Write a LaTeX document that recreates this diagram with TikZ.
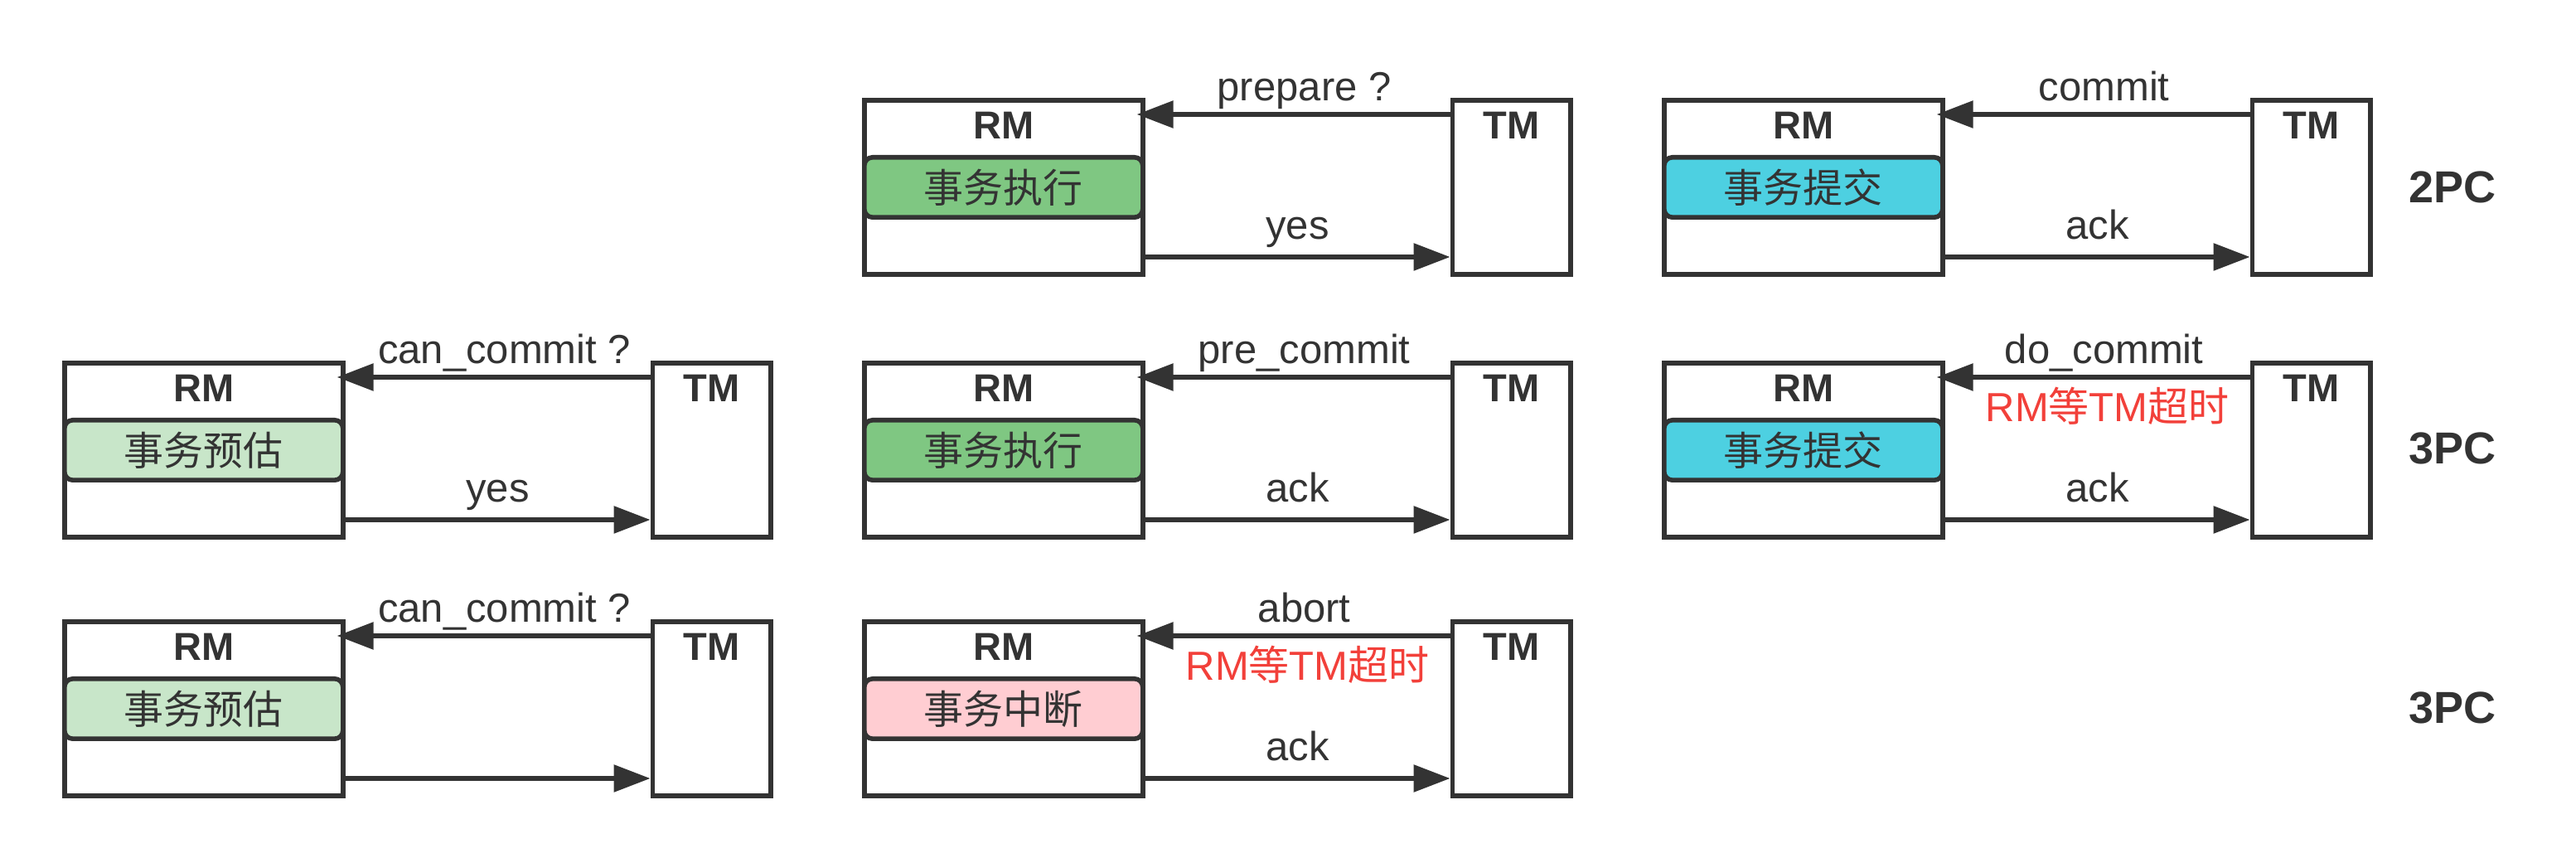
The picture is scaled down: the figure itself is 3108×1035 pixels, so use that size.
\documentclass[tikz,border=0pt]{standalone}
\usepackage{fontspec}
\setmainfont{Liberation Sans}
\newfontfamily\cjk{Noto Sans CJK SC}
\usetikzlibrary{positioning,arrows.meta}
\definecolor{ink}{HTML}{333333}
\definecolor{runfill}{HTML}{7FC782}
\definecolor{votefill}{HTML}{C8E6C9}
\definecolor{commitfill}{HTML}{4DD0E1}
\definecolor{abortfill}{HTML}{FFCDD2}
\definecolor{warnred}{HTML}{F2403A}
\newcommand{\txt}{\fontsize{12.25}{14}\selectfont}
\tikzset{
  box/.style={draw=ink, line width=1.4pt, fill=white, inner sep=0pt},
  rmbox/.style={box, minimum width=84pt, minimum height=52.5pt},
  tmbox/.style={box, minimum width=35.6pt, minimum height=52.5pt},
  head/.style={text=ink, font=\bfseries\fontsize{11.75}{13}\selectfont},
  state/.style={draw=ink, line width=1.4pt, rounded corners=2.5pt, minimum width=84pt,
    minimum height=18.1pt, inner sep=0pt, text=ink, font=\cjk\fontsize{12}{13}\selectfont},
  msg/.style={draw=ink, line width=1.4pt, -{Triangle[length=11pt,width=8pt]}},
  ask/.style={anchor=base, yshift=4pt, xshift=2pt, text=ink, font=\txt},
  reply/.style={anchor=base, yshift=5.25pt, text=ink, font=\txt},
  warn/.style={anchor=base, yshift=-13.5pt, xshift=3pt, text=warnred, font=\txt},
  phase/.style={text=ink, font=\bfseries\fontsize{13.5}{15}\selectfont}
}
% one RM/TM exchange: name, x, y, state fill, state text
\newcommand{\rmtm}[5]{%
  \node[rmbox, anchor=north west] (#1rm) at (#2,#3) {};
  \node[tmbox, right=92pt of #1rm.north east, anchor=north west] (#1tm) {};
  \node[head] (#1rmname) at ([yshift=-8.25pt]#1rm.north) {RM};
  \node[head] (#1tmname) at ([yshift=-8.25pt]#1tm.north) {TM};
  \node[state, fill=#4] (#1state) at ([yshift=-27pt]#1rm.north) {#5};
  \draw[msg, shorten >=-2.5pt] ([yshift=-5pt]#1tm.north west) -- coordinate[midway] (#1ask) ([yshift=-5pt]#1rm.north east);
  \draw[msg] ([yshift=-48pt]#1rm.north east) -- coordinate[midway] (#1reply) ([yshift=-48pt]#1tm.north west);
}
\begin{document}
\begin{tikzpicture}[x=0.25pt, y=-0.25pt]
\useasboundingbox (0,0) rectangle (3108,1035);
% 2PC
\rmtm{ra}{1040}{118}{runfill}{事务执行}
\rmtm{rb}{2005}{118}{commitfill}{事务提交}
\node[ask] at (raask) {prepare ?};
\node[reply] at (rareply) {yes};
\node[ask] at (rbask) {commit};
\node[reply] at (rbreply) {ack};
\node[phase] (twopc) at (2959,226) {2PC};
% 3PC
\rmtm{sa}{75}{435}{votefill}{事务预估}
\rmtm{sb}{1040}{435}{runfill}{事务执行}
\rmtm{sc}{2005}{435}{commitfill}{事务提交}
\node[ask] at (saask) {can\_commit ?};
\node[reply] at (sareply) {yes};
\node[ask] at (sbask) {pre\_commit};
\node[reply] at (sbreply) {ack};
\node[ask] at (scask) {do\_commit};
\node[warn] at (scask) {RM{\cjk 等}TM{\cjk 超时}};
\node[reply] at (screply) {ack};
\node[phase] (threepc) at (2959,541) {3PC};
% 3PC, abort
\rmtm{ta}{75}{747}{votefill}{事务预估}
\rmtm{tb}{1040}{747}{abortfill}{事务中断}
\node[ask] at (taask) {can\_commit ?};
\node[ask] at (tbask) {abort};
\node[warn] at (tbask) {RM{\cjk 等}TM{\cjk 超时}};
\node[reply] at (tbreply) {ack};
\node[phase] (threepcabort) at (2959,854) {3PC};
\end{tikzpicture}
\end{document}
